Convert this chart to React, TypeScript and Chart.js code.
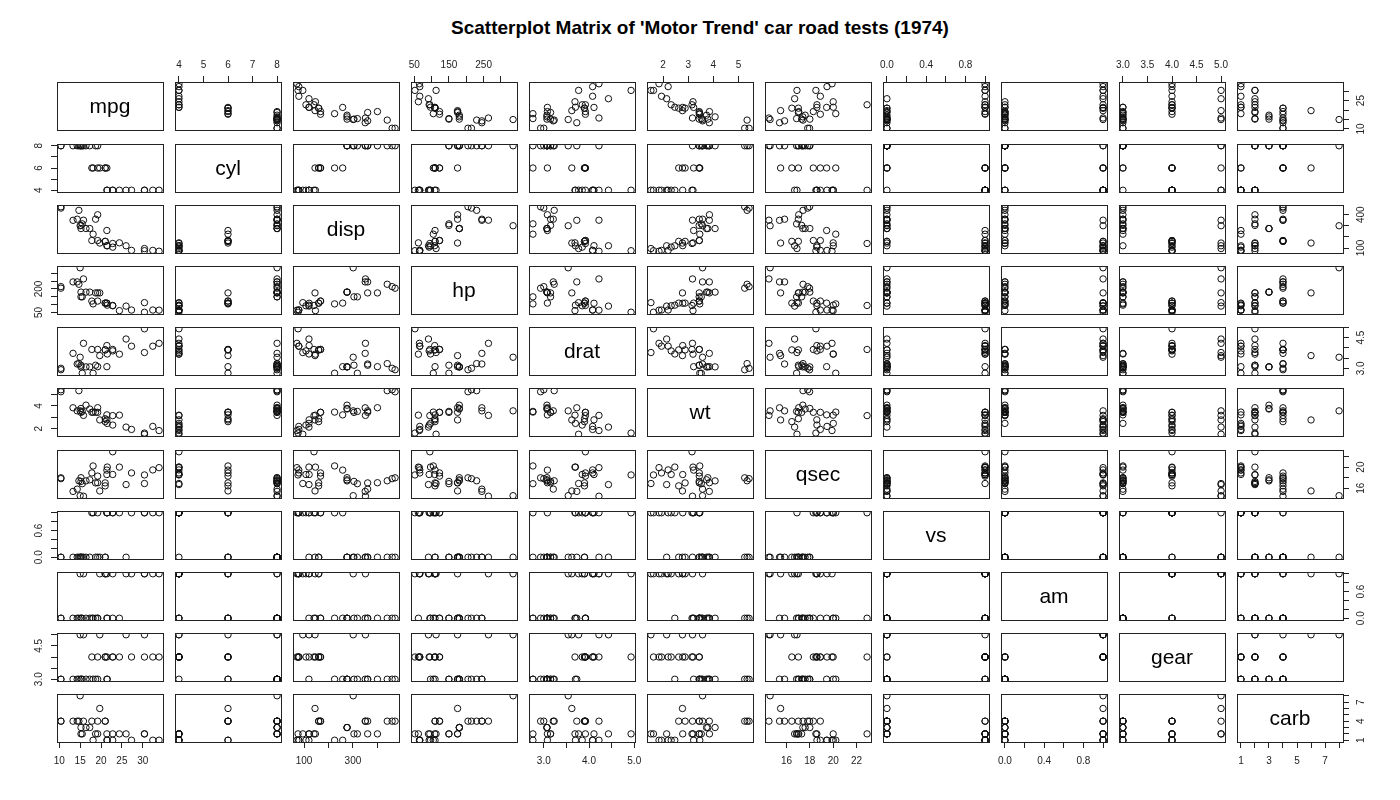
import React, { useEffect, useRef } from "react";
import { Chart, registerables } from "chart.js";

Chart.register(...registerables);

// ---- Data (mtcars, 32 cars) ----
const varNames = ["mpg", "cyl", "disp", "hp", "drat", "wt", "qsec", "vs", "am", "gear", "carb"];

const mpg = [21, 21, 22.8, 21.4, 18.7, 18.1, 14.3, 24.4, 22.8, 19.2, 17.8, 16.4, 17.3, 15.2, 10.4, 10.4, 14.7, 32.4, 30.4, 33.9, 21.5, 15.5, 15.2, 13.3, 19.2, 27.3, 26, 30.4, 15.8, 19.7, 15, 21.4];
const cyl = [6, 6, 4, 6, 8, 6, 8, 4, 4, 6, 6, 8, 8, 8, 8, 8, 8, 4, 4, 4, 4, 8, 8, 8, 8, 4, 4, 4, 8, 6, 8, 4];
const disp = [160, 160, 108, 258, 360, 225, 360, 146.7, 140.8, 167.6, 167.6, 275.8, 275.8, 275.8, 472, 460, 440, 78.7, 75.7, 71.1, 120.1, 318, 304, 350, 400, 79, 120.3, 95.1, 351, 145, 301, 121];
const hp = [110, 110, 93, 110, 175, 105, 245, 62, 95, 123, 123, 180, 180, 180, 205, 215, 230, 66, 52, 65, 97, 150, 150, 245, 175, 66, 91, 113, 264, 175, 335, 109];
const drat = [3.9, 3.9, 3.85, 3.08, 3.15, 2.76, 3.21, 3.69, 3.92, 3.92, 3.92, 3.07, 3.07, 3.07, 2.93, 3, 3.23, 4.08, 4.93, 4.22, 3.7, 2.76, 3.15, 3.73, 3.08, 4.08, 4.43, 3.77, 4.22, 3.62, 3.54, 4.11];
const wt = [2.62, 2.875, 2.32, 3.215, 3.44, 3.46, 3.57, 3.19, 3.15, 3.44, 3.44, 4.07, 3.73, 3.78, 5.25, 5.424, 5.345, 2.2, 1.615, 1.835, 2.465, 3.52, 3.435, 3.84, 3.845, 1.935, 2.14, 1.513, 3.17, 2.77, 3.57, 2.78];
const qsec = [16.46, 17.02, 18.61, 19.44, 17.02, 20.22, 15.84, 20, 22.9, 18.3, 18.9, 17.4, 17.6, 18, 17.98, 17.82, 17.42, 19.47, 18.52, 19.9, 20.01, 16.87, 17.3, 15.41, 17.05, 18.9, 16.7, 16.9, 14.5, 15.5, 14.6, 18.6];
const vs = [0, 0, 1, 1, 0, 1, 0, 1, 1, 1, 1, 0, 0, 0, 0, 0, 0, 1, 1, 1, 1, 0, 0, 0, 0, 1, 0, 1, 0, 0, 0, 1];
const am = [1, 1, 1, 0, 0, 0, 0, 0, 0, 0, 0, 0, 0, 0, 0, 0, 0, 1, 1, 1, 0, 0, 0, 0, 0, 1, 1, 1, 1, 1, 1, 1];
const gear = [4, 4, 4, 3, 3, 3, 3, 4, 4, 4, 4, 3, 3, 3, 3, 3, 3, 4, 4, 4, 3, 3, 3, 3, 3, 4, 5, 5, 5, 5, 5, 4];
const carb = [4, 4, 1, 1, 2, 1, 4, 2, 2, 4, 4, 3, 3, 3, 4, 4, 4, 1, 2, 1, 1, 2, 2, 4, 2, 1, 2, 2, 4, 6, 8, 2];

// ---- Tick values and labels (horizontal axes / vertical axes) ----
const mpgTicks = [10, 15, 20, 25, 30];
const mpgHLabels = ["10", "15", "20", "25", "30"];
const mpgVLabels = ["10", "", "", "25", ""];
const cylTicks = [4, 5, 6, 7, 8];
const cylHLabels = ["4", "5", "6", "7", "8"];
const cylVLabels = ["4", "", "6", "", "8"];
const dispTicks = [100, 200, 300, 400];
const dispHLabels = ["100", "", "300", ""];
const dispVLabels = ["100", "", "", "400"];
const hpTicks = [50, 100, 150, 200, 250, 300];
const hpHLabels = ["50", "", "150", "", "250", ""];
const hpVLabels = ["50", "", "", "200", "", ""];
const dratTicks = [3.0, 3.5, 4.0, 4.5, 5.0];
const dratHLabels = ["3.0", "", "4.0", "", "5.0"];
const dratVLabels = ["3.0", "", "", "4.5", ""];
const wtTicks = [2, 3, 4, 5];
const wtHLabels = ["2", "3", "4", "5"];
const wtVLabels = ["2", "", "4", ""];
const qsecTicks = [16, 18, 20, 22];
const qsecHLabels = ["16", "18", "20", "22"];
const qsecVLabels = ["16", "", "20", ""];
const vsTicks = [0, 0.2, 0.4, 0.6, 0.8, 1.0];
const vsHLabels = ["0.0", "", "0.4", "", "0.8", ""];
const vsVLabels = ["0.0", "", "", "0.6", "", ""];
const amTicks = [0, 0.2, 0.4, 0.6, 0.8, 1.0];
const amHLabels = ["0.0", "", "0.4", "", "0.8", ""];
const amVLabels = ["0.0", "", "", "0.6", "", ""];
const gearTicks = [3.0, 3.5, 4.0, 4.5, 5.0];
const gearHLabels = ["3.0", "3.5", "4.0", "4.5", "5.0"];
const gearVLabels = ["3.0", "", "", "4.5", ""];
const carbTicks = [1, 2, 3, 4, 5, 6, 7, 8];
const carbHLabels = ["1", "", "3", "", "5", "", "7", ""];
const carbVLabels = ["1", "", "", "4", "", "", "7", ""];

const titleText = "Scatterplot Matrix of 'Motor Trend' car road tests (1974)";

const series = [mpg, cyl, disp, hp, drat, wt, qsec, vs, am, gear, carb];
const tickSets = [mpgTicks, cylTicks, dispTicks, hpTicks, dratTicks, wtTicks, qsecTicks, vsTicks, amTicks, gearTicks, carbTicks];
const hLabelSets = [mpgHLabels, cylHLabels, dispHLabels, hpHLabels, dratHLabels, wtHLabels, qsecHLabels, vsHLabels, amHLabels, gearHLabels, carbHLabels];
const vLabelSets = [mpgVLabels, cylVLabels, dispVLabels, hpVLabels, dratVLabels, wtVLabels, qsecVLabels, vsVLabels, amVLabels, gearVLabels, carbVLabels];

// ---- Layout ----
const N = 11;
const PAD = 36;
const W = 106;
const H = 48;
const colLeft = (j: number) => Math.round(56.7 + 118.06 * j);
const rowTop = (i: number) => Math.round(82.3 + 61.2 * i);
const FONT_FAMILY = '"Liberation Sans", Arial, Helvetica, sans-serif';
const TICK_SIZE = 10;
const TICK_LEN = 6;

function extent(arr: number[]) {
  const mn = Math.min(...arr);
  const mx = Math.max(...arr);
  const r = mx - mn;
  return [mn - 0.04 * r, mx + 0.04 * r];
}

let measureCtx: CanvasRenderingContext2D | null = null;
function widest(labels: string[]) {
  if (!measureCtx) {
    measureCtx = document.createElement("canvas").getContext("2d");
  }
  const c = measureCtx as CanvasRenderingContext2D;
  c.font = `${TICK_SIZE}px ${FONT_FAMILY}`;
  return Math.max(0, ...labels.map((s) => c.measureText(s).width));
}

function framePlugin(label: string | null) {
  return {
    id: "frame",
    afterDraw(chart: any) {
      const { ctx, chartArea: a } = chart;
      ctx.save();
      ctx.strokeStyle = "#222";
      ctx.lineWidth = 1;
      ctx.strokeRect(
        Math.round(a.left) + 0.5,
        Math.round(a.top) + 0.5,
        Math.round(a.right - a.left),
        Math.round(a.bottom - a.top)
      );
      if (label) {
        ctx.fillStyle = "#000";
        ctx.font = `21px ${FONT_FAMILY}`;
        ctx.textAlign = "center";
        ctx.textBaseline = "middle";
        ctx.fillText(label, (a.left + a.right) / 2, (a.top + a.bottom) / 2 + 1);
      }
      ctx.restore();
    },
  };
}

function hScale(v: number, show: boolean, pos: "top" | "bottom") {
  const [mn, mx] = extent(series[v]);
  const ticks = tickSets[v];
  const labels = hLabelSets[v];
  return {
    type: "linear",
    min: mn,
    max: mx,
    display: show,
    position: pos,
    afterBuildTicks: (scale: any) => {
      scale.ticks = ticks.map((t) => ({ value: t }));
    },
    afterFit: (scale: any) => {
      if (show) scale.height = PAD;
    },
    grid: { display: true, drawOnChartArea: false, drawTicks: true, tickLength: TICK_LEN, color: "#222", lineWidth: 1 },
    border: { display: false },
    ticks: {
      autoSkip: false,
      maxRotation: 0,
      minRotation: 0,
      padding: pos === "top" ? 5 : 7,
      color: "#222",
      font: { family: FONT_FAMILY, size: TICK_SIZE },
      callback: (_val: any, idx: number) => labels[idx],
    },
  };
}

function vScale(v: number, show: boolean, pos: "left" | "right") {
  const [mn, mx] = extent(series[v]);
  const ticks = tickSets[v];
  const labels = vLabelSets[v];
  const wd = show ? widest(labels) : 0;
  return {
    type: "linear",
    min: mn,
    max: mx,
    display: show,
    position: pos,
    afterBuildTicks: (scale: any) => {
      scale.ticks = ticks.map((t) => ({ value: t }));
    },
    afterFit: (scale: any) => {
      if (show) scale.width = PAD;
    },
    grid: { display: true, drawOnChartArea: false, drawTicks: true, tickLength: TICK_LEN, color: "#222", lineWidth: 1 },
    border: { display: false },
    ticks: {
      autoSkip: false,
      minRotation: 90,
      maxRotation: 90,
      crossAlign: "center",
      padding: 12 - wd / 2,
      color: "#222",
      font: { family: FONT_FAMILY, size: TICK_SIZE },
      callback: (_val: any, idx: number) => labels[idx],
    },
  };
}

function Panel({ i, j }: { i: number; j: number }) {
  const ref = useRef<HTMLCanvasElement | null>(null);
  useEffect(() => {
    const hasTop = i === 0 && j % 2 === 1;
    const hasBottom = i === N - 1 && j % 2 === 0;
    const hasLeft = j === 0 && i % 2 === 1;
    const hasRight = j === N - 1 && i % 2 === 0;
    const xs = series[j];
    const ys = series[i];
    const datasets =
      i === j
        ? []
        : [
            {
              data: xs.map((x, k) => ({ x, y: ys[k] })),
              showLine: false,
              pointRadius: 3.2,
              pointHoverRadius: 3.2,
              pointBorderWidth: 1,
              pointBorderColor: "#111",
              pointBackgroundColor: "rgba(0,0,0,0)",
              pointStyle: "circle",
            },
          ];
    const chart = new Chart(ref.current as HTMLCanvasElement, {
      type: "scatter",
      data: { datasets } as any,
      options: {
        animation: false,
        responsive: false,
        devicePixelRatio: 1,
        events: [],
        layout: {
          autoPadding: false,
          padding: {
            left: hasLeft ? 0 : PAD,
            right: hasRight ? 0 : PAD,
            top: hasTop ? 0 : PAD,
            bottom: hasBottom ? 0 : PAD,
          },
        },
        plugins: {
          legend: { display: false },
          tooltip: { enabled: false },
          title: { display: false },
        },
        scales: {
          x: hScale(j, hasTop || hasBottom, hasTop ? "top" : "bottom"),
          y: vScale(i, hasLeft || hasRight, hasLeft ? "left" : "right"),
        } as any,
      } as any,
      plugins: [framePlugin(i === j ? varNames[i] : null)],
    });
    return () => chart.destroy();
  }, [i, j]);
  return (
    <canvas
      ref={ref}
      width={W + 2 * PAD}
      height={H + 2 * PAD}
      style={{
        position: "absolute",
        left: colLeft(j) - PAD,
        top: rowTop(i) - PAD,
        width: W + 2 * PAD,
        height: H + 2 * PAD,
      }}
    />
  );
}

export default function App() {
  const cells: React.ReactNode[] = [];
  for (let i = 0; i < N; i++) {
    for (let j = 0; j < N; j++) {
      cells.push(<Panel key={`${i}-${j}`} i={i} j={j} />);
    }
  }
  return (
    <div
      style={{
        position: "absolute",
        left: 0,
        top: 0,
        width: 1400,
        height: 800,
        background: "#fff",
        overflow: "hidden",
      }}
    >
      <div
        style={{
          position: "absolute",
          left: 0,
          top: 17,
          width: 1400,
          textAlign: "center",
          fontFamily: FONT_FAMILY,
          fontWeight: "bold",
          fontSize: 19,
          lineHeight: "22px",
          color: "#000",
        }}
      >
        {titleText}
      </div>
      {cells}
    </div>
  );
}
